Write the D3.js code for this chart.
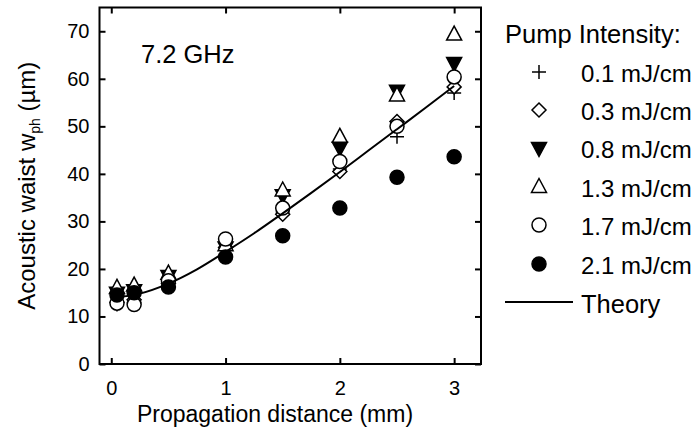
<!DOCTYPE html>
<html><head><meta charset="utf-8">
<script src="https://cdn.jsdelivr.net/npm/d3@7"></script>
<style>body{margin:0;background:#fff}svg{display:block}text{font-family:"Liberation Sans",Arial,sans-serif;fill:#000}</style>
</head><body><svg id="c" width="693" height="437"></svg>
<script>
const distances = [0.05, 0.2, 0.5, 1.0, 1.5, 2.0, 2.5, 3.0];
const pump01 = [12.5, 13, 17.5, 24.5, 32, 41, 47.8, 57];
const pump03 = [13, 13.5, 17, 24.5, 31.5, 40.5, 51, 58.3];
const pump08 = [15, 15.5, 18.5, 24.5, 35.5, 45.5, 57.5, 63.3];
const pump13 = [16, 16.5, 19, 25, 36.5, 47.8, 56.5, 69.3];
const pump17 = [12.8, 12.5, 17.5, 26.3, 32.8, 42.6, 50, 60.4];
const pump21 = [14.5, 15, 16.2, 22.5, 27, 32.8, 39.3, 43.6];
const theoryZ = [0.05, 0.25, 0.5, 0.75, 1.0, 1.25, 1.5, 1.75, 2.0, 2.25, 2.5, 2.75, 3.0];
const theoryW = [14.0, 14.8, 16.9, 19.9, 23.6, 27.5, 31.7, 36.0, 40.4, 44.9, 49.4, 53.9, 58.5];
const xTicks = [0, 1, 2, 3];
const yTicks = [0, 10, 20, 30, 40, 50, 60, 70];
const seriesLabels = ["0.1 mJ/cm", "0.3 mJ/cm", "0.8 mJ/cm", "1.3 mJ/cm", "1.7 mJ/cm", "2.1 mJ/cm"];
const seriesShapes = ["plus", "diamond", "triDown", "triUp", "circleOpen", "circleFilled"];
const seriesValues = [pump01, pump03, pump08, pump13, pump17, pump21];

const svg = d3.select("#c");
const L = 99.5, R = 481, T = 7.5, B = 364;
const x = d3.scaleLinear().domain([-0.103, 3.235]).range([L, R]);
const y = d3.scaleLinear().domain([0, 75]).range([B, T]);

function shapePath(t){
  const s = 7;
  if (t === "plus") return `M${-s},0H${s}M0,${-s}V${s}`;
  if (t === "diamond") return `M0,${-s}L${s},0L0,${s}L${-s},0Z`;
  if (t === "triDown") return `M${-s-0.5},${-s+1.5}L${s+0.5},${-s+1.5}L0,${s+1.5}Z`;
  if (t === "triUp") return `M${-s-0.5},${s-1.5}L${s+0.5},${s-1.5}L0,${-s-1.5}Z`;
  return null;
}
function drawMarker(g, t, cx, cy){
  if (t === "circleOpen" || t === "circleFilled") {
    g.append("circle").attr("cx", cx).attr("cy", cy).attr("r", 7)
      .attr("fill", t === "circleFilled" ? "#000" : "#fff").attr("stroke", "#000").attr("stroke-width", 1.5);
  } else {
    const fill = t === "plus" ? "none" : (t === "triDown" ? "#000" : "#fff");
    g.append("path").attr("d", shapePath(t)).attr("transform", `translate(${cx},${cy})`)
      .attr("fill", fill).attr("stroke", "#000").attr("stroke-width", 1.5);
  }
}

// frame
svg.append("rect").attr("x", L).attr("y", T).attr("width", R - L).attr("height", B - T)
  .attr("fill", "none").attr("stroke", "#000").attr("stroke-width", 2);

// axes with inward ticks on all sides
const tl = 6;
const axB = svg.append("g").attr("transform", `translate(0,${B})`)
  .call(d3.axisBottom(x).tickValues(xTicks).tickSizeInner(-tl).tickSizeOuter(0).tickPadding(17).tickFormat(d3.format("d")));
const axT = svg.append("g").attr("transform", `translate(0,${T})`)
  .call(d3.axisTop(x).tickValues(xTicks).tickSizeInner(-tl).tickSizeOuter(0).tickFormat(""));
const axLft = svg.append("g").attr("transform", `translate(${L},0)`)
  .call(d3.axisLeft(y).tickValues(yTicks).tickSizeInner(-tl).tickSizeOuter(0).tickPadding(10).tickFormat(d3.format("d")));
const axRt = svg.append("g").attr("transform", `translate(${R},0)`)
  .call(d3.axisRight(y).tickValues(yTicks).tickSizeInner(-tl).tickSizeOuter(0).tickFormat(""));
[axB, axT, axLft, axRt].forEach(a => {
  a.select(".domain").remove();
  a.selectAll(".tick line").attr("stroke", "#000").attr("stroke-width", 2);
  a.selectAll(".tick text").attr("font-size", 20).attr("font-family", "Liberation Sans, Arial, sans-serif").attr("fill", "#000");
});

// data
const gData = svg.append("g");
seriesValues.forEach((vals, i) => {
  vals.forEach((v, j) => drawMarker(gData, seriesShapes[i], x(distances[j]), y(v)));
});

// theory line
const line = d3.line().x((d, i) => x(theoryZ[i])).y(d => y(d)).curve(d3.curveMonotoneX);
svg.append("path").attr("d", line(theoryW)).attr("fill", "none").attr("stroke", "#000").attr("stroke-width", 2);

// annotation
svg.append("text").attr("x", 141).attr("y", 63).attr("font-size", 25.5).text("7.2 GHz");

// axis titles
svg.append("text").attr("x", 275).attr("y", 422).attr("text-anchor", "middle").attr("font-size", 23)
  .text("Propagation distance (mm)");
const yt = svg.append("text").attr("transform", `translate(35,${(T + B) / 2}) rotate(-90)`).attr("text-anchor", "middle").attr("font-size", 24);
yt.append("tspan").text("Acoustic waist w");
yt.append("tspan").attr("font-size", 14).attr("dy", 5).text("ph");
yt.append("tspan").attr("dy", -5).text(" (\u00b5m)");

// legend
svg.append("text").attr("x", 505).attr("y", 43).attr("font-size", 25.5).text("Pump Intensity:");
const rowY = [82, 120, 158, 197, 235, 274];
const gLeg = svg.append("g");
seriesLabels.forEach((lab, i) => {
  drawMarker(gLeg, seriesShapes[i], 539, rowY[i] - 10);
  gLeg.append("text").attr("x", 581).attr("y", rowY[i]).attr("font-size", 24).text(lab);
});
gLeg.append("line").attr("x1", 505).attr("x2", 573).attr("y1", 302).attr("y2", 302).attr("stroke", "#000").attr("stroke-width", 2);
gLeg.append("text").attr("x", 581).attr("y", 313).attr("font-size", 25.5).text("Theory");
</script></body></html>
